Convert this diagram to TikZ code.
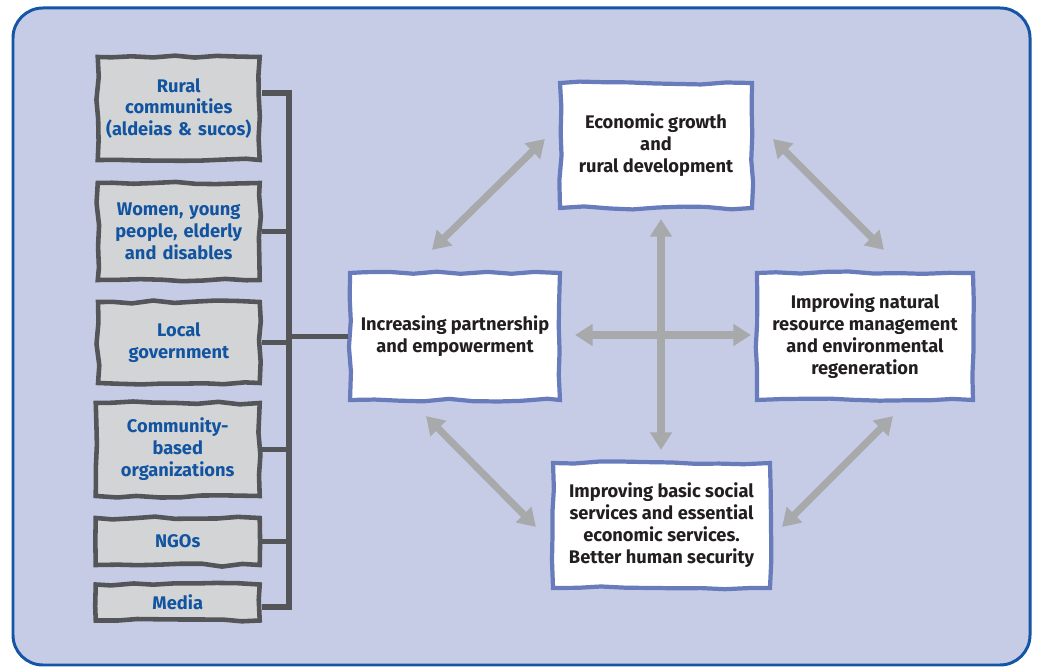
\documentclass[tikz,border=0pt]{standalone}
\usepackage{fontspec}
\setmainfont{Fira Sans}
\usetikzlibrary{arrows.meta,calc,decorations.pathmorphing}
\definecolor{framebg}{RGB}{199,204,230}
\definecolor{frameline}{RGB}{20,85,165}
\definecolor{actorfill}{RGB}{211,212,214}
\definecolor{actorline}{RGB}{84,85,89}
\definecolor{actortext}{RGB}{18,84,160}
\definecolor{goalline}{RGB}{104,124,188}
\definecolor{goaltext}{RGB}{35,31,32}
\definecolor{arrowgray}{RGB}{168,169,171}
\tikzset{
    actor/.style={rectangle, draw=actorline, fill=actorfill, line width=2.6pt, text width=3cm, align=center, minimum width=3.24cm, anchor=east, text=actortext, font=\bfseries\fontsize{10.4}{12.5}\selectfont, decorate, decoration={random steps, segment length=12pt, amplitude=0.9pt}},
    goal/.style={rectangle, draw=goalline, fill=white, line width=2.4pt, align=center, text=goaltext, font=\bfseries\fontsize{10.4}{12.5}\selectfont, decorate, decoration={random steps, segment length=14pt, amplitude=0.9pt}},
    link/.style={draw=actorline, line width=3.4pt},
    biarrow/.style={draw=arrowgray, line width=4pt, {Triangle[length=10pt,width=12pt]}-{Triangle[length=10pt,width=12pt]}}
}

\begin{document}
\begin{tikzpicture}[x=0.02cm, y=-0.02cm]
    \pgfmathsetseed{11}
    \useasboundingbox (0,0) rectangle (1038,671);
    % Frame
    \draw [frameline, fill=framebg, line width=1.7pt, rounded corners=17pt] (13,8) rectangle (1030,665);

    % Actors
    \node [actor, minimum height=2.06cm] (rural) at (262,108.5) {Rural\\communities\\(aldeias \& sucos)\\[3pt]};
    \node [actor, minimum height=1.94cm] (women) at (262,231.5) {Women, young\\people, elderly\\and disables};
    \node [actor, minimum height=1.62cm, minimum width=3.18cm] (localgov) at (262,342.5) {Local\\government};
    \node [actor, minimum height=1.86cm, minimum width=3.28cm] (cbo) at (262,449.5) {Community-\\based\\organizations};
    \node [actor, minimum height=0.94cm, minimum width=3.28cm] (ngos) at (262,541.5) {NGOs};
    \node [actor, minimum height=0.72cm, minimum width=3.28cm] (media) at (262,602.5) {Media};

    % Goals
    \node [goal, minimum width=3.84cm, minimum height=2.5cm] (growth) at (656,145.5) {Economic growth\\and\\rural development};
    \node [goal, minimum width=4.2cm, minimum height=2.54cm] (partner) at (455,336.5) {Increasing partnership\\and empowerment};
    \node [goal, minimum width=4.32cm, minimum height=2.54cm] (nature) at (865,336.5) {Improving natural\\resource management\\and environmental\\regeneration};
    \node [goal, minimum width=4.34cm, minimum height=2.5cm] (basic) at (661.5,525.5) {Improving basic social\\services and essential\\economic services.\\Better human security};

    % Spine
    \coordinate (spinetop) at (289,93);
    \coordinate (spinebot) at (289,607);
    \draw [link] (rural.east |- spinetop) -- (spinetop) -- (spinebot) -- (media.east |- spinebot);
    \foreach \n in {women,localgov,cbo,ngos}
        \draw [link] (\n.east) -- (\n.east -| spinetop);
    \draw [link] (partner.west -| spinetop) -- (partner.west);

    % Links between goals
    \draw [biarrow] ($(partner.north)+(-23,-21)$) -- ($(growth.west)+(-13,-6.5)$);
    \draw [biarrow] ($(growth.east)+(19,-6.5)$) -- ($(nature.north)+(19,-21)$);
    \draw [biarrow] ($(growth.south)+(5,9)$) -- ($(basic.north)+(-0.5,-11)$);
    \draw [biarrow] ($(partner.east)+(13,-1.5)$) -- ($(nature.west)+(-4,-1.5)$);
    \draw [biarrow] ($(partner.south)+(-29,14)$) -- ($(basic.west)+(-15,1.5)$);
    \draw [biarrow] ($(basic.east)+(10,1.5)$) -- ($(nature.south)+(28,14)$);
\end{tikzpicture}
\end{document}
